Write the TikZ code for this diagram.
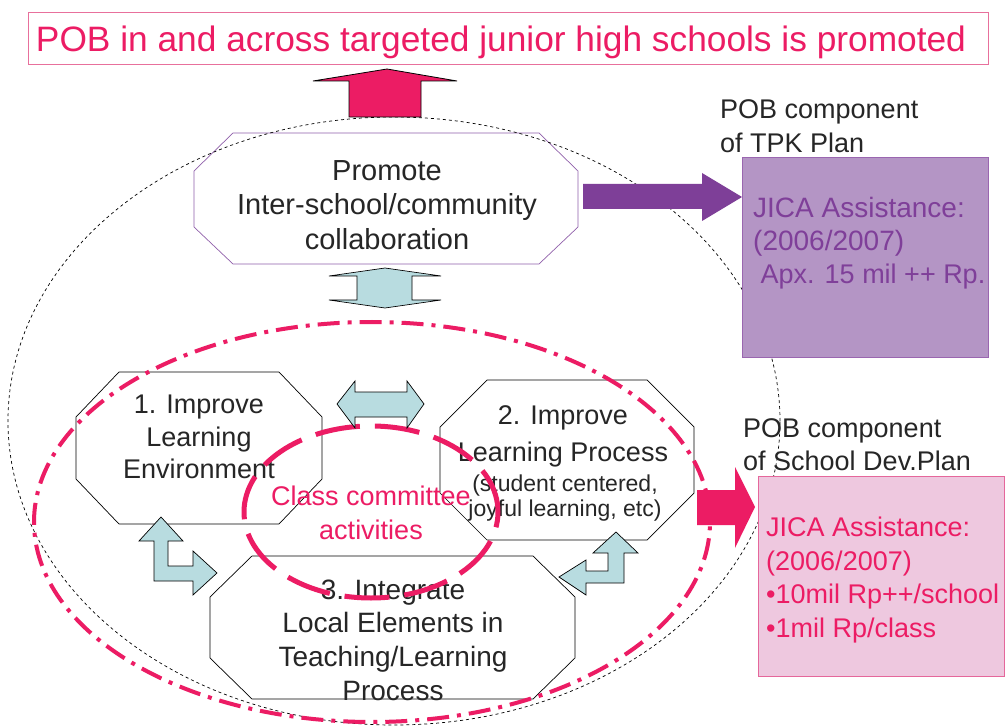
\documentclass[tikz,border=0pt]{standalone}
\usepackage{fontspec}
\setmainfont{Liberation Sans}
\usetikzlibrary{calc}
\definecolor{pk}{HTML}{EC1C64}
\definecolor{pkline}{HTML}{E8709C}
\definecolor{pkfill}{HTML}{EEC8DF}
\definecolor{pkborder}{HTML}{E5679B}
\definecolor{pu}{HTML}{7E3F98}
\definecolor{pufill}{HTML}{B495C5}
\definecolor{puborder}{HTML}{9A66B0}
\definecolor{putext}{HTML}{7F3F99}
\definecolor{puline}{HTML}{9060AA}
\definecolor{lb}{HTML}{B8DCE0}
\definecolor{tx}{HTML}{262626}
\begin{document}
\begin{tikzpicture}[x=1pt,y=-1pt,
  octo/.style={draw=black,line width=0.7pt,line join=miter},
  txt/.style={inner sep=0pt,align=center,text=tx},
  lefttxt/.style={inner sep=0pt,align=left,anchor=west},
  bluearrow/.style={fill=lb,draw=black,line width=0.7pt,line join=miter},
  bigdash/.style={draw=black,line width=0.7pt,dash pattern=on 3pt off 3pt},
  dashdotpink/.style={draw=pk,line width=4pt,dash pattern=on 22pt off 8pt on 4pt off 8pt},
  classring/.style={draw=pk,line width=5pt,dash pattern=on 45pt off 15pt}]
\fill[white] (0,0) rectangle (1007,727);
\useasboundingbox (0,0) rectangle (1007,727);

% title
\draw[pkline,line width=1pt] (28,13) rectangle (988,65);
\node[txt,text=pk,font=\fontsize{35.3}{40}\selectfont] (title) at (501,42) {POB in and across targeted junior high schools is promoted};

% octagons
\draw[octo,draw=puline] (233,133)--(539,133)--(578,171)--(578,227)--(539,264)--(233,264)--(194,227)--(194,171)--cycle;
\draw[octo] (119,372)--(279,372)--(322,417)--(322,479)--(279,524)--(119,524)--(76,479)--(76,417)--cycle;
\draw[octo] (487,380)--(647,380)--(694,427)--(694,493)--(647,540)--(487,540)--(440,493)--(440,427)--cycle;
\draw[octo] (252,556)--(533,556)--(575,597)--(575,658)--(533,699)--(252,699)--(210,658)--(210,597)--cycle;

\node[txt,font=\fontsize{29}{34.5}\selectfont] (promote) at (387,205) {Promote\\Inter-school/community\\collaboration};
\node[txt,font=\fontsize{27}{32.5}\selectfont] (env) at (199,437) {1. Improve\\Learning\\Environment};
\node[txt,font=\fontsize{27}{37}\selectfont] (proc) at (563,436) {2. Improve\\Learning Process};
\node[txt,font=\fontsize{23}{25}\selectfont] (procsub) at (565,498) {(student centered,\\joyful learning, etc)};
\node[txt,font=\fontsize{28}{33.7}\selectfont] (local) at (393,640) {3. Integrate\\Local Elements in\\Teaching/Learning\\Process};

% ellipses
\draw[bigdash] (394,421) ellipse [x radius=386pt, y radius=304pt];
\draw[dashdotpink] (372,522) ellipse [x radius=338pt, y radius=200pt];
\draw[classring] (371,512) ellipse [x radius=127pt, y radius=86pt];
\node[txt,text=pk,font=\fontsize{27}{34}\selectfont] (class) at (371,513) {Class committee\\activities};

% block arrows
\draw[fill=pk,draw=black,line width=0.8pt] (387,69)--(457,81)--(421,81)--(421,117)--(349,117)--(349,81)--(313,81)--cycle;
\fill[pu] (583,184)--(702,184)--(702,173)--(742,197)--(702,221)--(702,209)--(583,209)--cycle;
\fill[pk] (697,490)--(735,490)--(735,467)--(755,507)--(735,548)--(735,525)--(697,525)--cycle;
\draw[bluearrow] (385,268)--(441,276)--(412,276)--(412,300)--(441,300)--(385,308)--(329,300)--(357,300)--(357,276)--(329,276)--cycle;
\draw[bluearrow] (337,404)--(355,381)--(355,392)--(407,392)--(407,381)--(424,404)--(407,428)--(407,417)--(355,417)--(355,428)--cycle;
\draw[bluearrow] (161,517)--(183,541)--(168,541)--(168,566)--(193,566)--(193,551)--(217,573)--(193,595)--(193,581)--(154,581)--(154,541)--(139,541)--cycle;
\draw[bluearrow] (616,532)--(638,553)--(624,553)--(624,583)--(586,583)--(586,595)--(559,577)--(586,560)--(586,571)--(608,571)--(608,553)--(593,553)--cycle;

% right side boxes
\node[lefttxt,text=tx,font=\fontsize{27}{34}\selectfont] (tpklabel) at (720,126) {POB component\\of TPK Plan};
\node[draw=puborder,fill=pufill,line width=1pt,minimum width=246pt,minimum height=200pt,anchor=north west,inner sep=0pt] (tpkbox) at (742,157) {};
\node[lefttxt,text=putext,font=\fontsize{28}{33}\selectfont] (tpktext) at (753,243) {JICA Assistance:\\(2006/2007)\\{\fontsize{27}{33}\selectfont\ Apx. 15 mil ++ Rp.}};

\node[lefttxt,text=tx,font=\fontsize{27}{33}\selectfont] (schlabel) at (743,445) {POB component\\of School Dev.Plan};
\node[draw=pkborder,fill=pkfill,line width=1pt,minimum width=246pt,minimum height=200pt,anchor=north west,inner sep=0pt] (schbox) at (758,476) {};
\node[lefttxt,text=pk,font=\fontsize{27}{33.5}\selectfont] (schtext) at (766,580) {JICA Assistance:\\(2006/2007)\\•10mil Rp++/school\\•1mil Rp/class};
\end{tikzpicture}
\end{document}
